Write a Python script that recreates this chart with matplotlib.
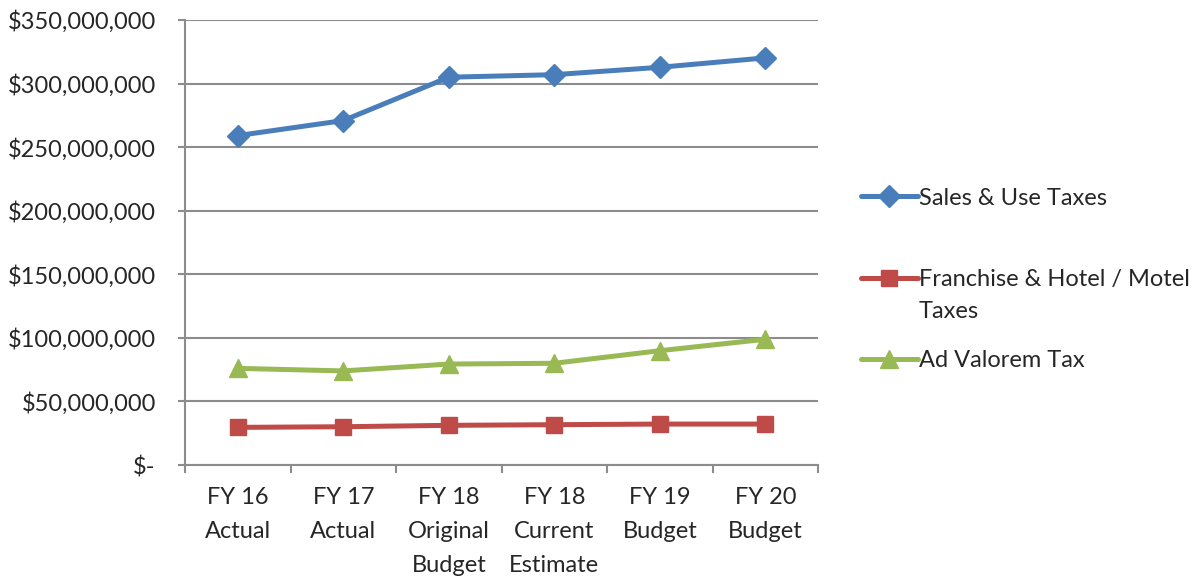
import numpy as np
import matplotlib.pyplot as plt
from matplotlib.ticker import FuncFormatter, FixedLocator

plt.rcParams["font.family"] = ["Lato", "DejaVu Sans"]

text_color = "#262626"
grid_color = "#8c8c8c"

categories = [
    "FY 16\nActual",
    "FY 17\nActual",
    "FY 18\nOriginal\nBudget",
    "FY 18\nCurrent\nEstimate",
    "FY 19\nBudget",
    "FY 20\nBudget",
]
sales_use = [259.1e6, 270.9e6, 305.0e6, 307.0e6, 312.8e6, 320.2e6]
franchise_hotel = [29.6e6, 30.1e6, 31.2e6, 31.7e6, 32.2e6, 32.2e6]
ad_valorem = [76.0e6, 74.0e6, 79.4e6, 80.0e6, 89.9e6, 98.9e6]


def money(v, pos):
    if v == 0:
        return "$-"
    return "${:,.0f}".format(v)


def main():
    fig = plt.figure(figsize=(12.03, 5.78), dpi=100)
    ax = fig.add_axes([0.1538, 0.1955, 0.5262, 0.7699])

    x = np.arange(len(categories))
    (l1,) = ax.plot(x, sales_use, color="#4a7ebb", lw=3.6, marker="D", markersize=11,
                    label="Sales & Use Taxes", solid_capstyle="round")
    (l2,) = ax.plot(x, franchise_hotel, color="#be4b48", lw=3.6, marker="s", markersize=11.5,
                    label="Franchise & Hotel / Motel", solid_capstyle="round")
    (l3,) = ax.plot(x, ad_valorem, color="#98b954", lw=3.6, marker="^", markersize=12.5,
                    label="Ad Valorem Tax", solid_capstyle="round")

    ax.set_xlim(-0.5, len(categories) - 0.5)
    ax.set_ylim(0, 350e6)
    ax.set_yticks(np.arange(0, 350e6 + 1, 50e6))
    ax.yaxis.set_major_formatter(FuncFormatter(money))
    ax.set_xticks(x)
    ax.set_xticklabels(categories, linespacing=1.75)
    ax.xaxis.set_minor_locator(FixedLocator(np.arange(-0.5, len(categories), 1.0)))

    ax.grid(True, axis="y", color=grid_color, lw=1.5)
    ax.set_axisbelow(True)
    for side in ["top", "right"]:
        ax.spines[side].set_visible(False)
    for side in ["left", "bottom"]:
        ax.spines[side].set_color(grid_color)
        ax.spines[side].set_linewidth(1.5)

    ax.tick_params(axis="y", length=5, width=1.5, color=grid_color,
                   labelcolor=text_color, labelsize=17, pad=16)
    ax.tick_params(axis="x", which="major", length=0, labelcolor=text_color,
                   labelsize=17, pad=16)
    ax.tick_params(axis="x", which="minor", length=6, width=1.5, color=grid_color)

    leg = fig.legend(
        handles=[l1, l2, l3],
        loc="upper left",
        bbox_to_anchor=(0.698, 0.712),
        frameon=False,
        fontsize=17,
        handlelength=2.4,
        handletextpad=0.05,
        labelspacing=2.55,
        labelcolor=text_color,
    )

    fig.canvas.draw()
    bb = leg.get_texts()[1].get_window_extent()
    (tx, ty) = fig.transFigure.inverted().transform((bb.x0, bb.y0))
    fig.text(tx, ty - 0.02, "Taxes", fontsize=17, color=text_color, va="top", ha="left")

    plt.savefig("out.png", dpi=100)


if __name__ == "__main__":
    main()
